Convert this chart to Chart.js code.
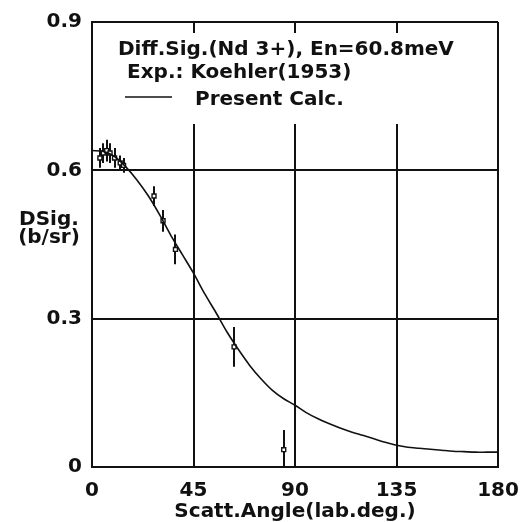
<!DOCTYPE html>
<html>
<head>
<meta charset="utf-8">
<script src="https://cdn.jsdelivr.net/npm/chart.js@4.4.0/dist/chart.umd.min.js"></script>
<style>
  html, body { margin: 0; padding: 0; background: #fff; }
  #wrap { width: 528px; height: 522px; }
</style>
</head>
<body>
<div id="wrap"><canvas id="grafico" width="528" height="522"></canvas></div>
<script>
// ---------- datos ----------
const xTicks = [0, 45, 90, 135, 180];
const yTicks = [0, 0.3, 0.6, 0.9];

// curva calculada (Present Calc.)
const calcX = [0, 5, 10, 15, 20, 25, 30, 35, 40, 45, 50, 55, 60, 65, 70, 75, 80, 85, 90,
               95, 100, 105, 110, 115, 120, 125, 130, 135, 140, 145, 150, 155, 160, 165, 170, 175, 180];
const calcY = [0.640, 0.638, 0.628, 0.607, 0.580, 0.548, 0.510, 0.468, 0.430, 0.392, 0.350, 0.312,
               0.272, 0.237, 0.205, 0.178, 0.155, 0.138, 0.125, 0.110, 0.098, 0.088, 0.079, 0.071,
               0.064, 0.057, 0.050, 0.044, 0.040, 0.038, 0.036, 0.034, 0.032, 0.031, 0.030, 0.030, 0.030];

// experimento Koehler (1953)
const expX   = [3.5, 5, 6.5, 8, 10, 12.5, 14, 27.5, 31.5, 37, 63, 85];
const expY   = [0.625, 0.635, 0.64, 0.635, 0.625, 0.615, 0.61, 0.548, 0.498, 0.44, 0.243, 0.035];
const expErr = [0.02, 0.02, 0.022, 0.02, 0.02, 0.015, 0.015, 0.02, 0.022, 0.03, 0.04, 0.04];

const legendLines = ['Diff.Sig.(Nd 3+), En=60.8meV', 'Exp.: Koehler(1953)', 'Present Calc.'];
const yTitle = ['DSig.', '(b/sr)'];
const xTitle = 'Scatt.Angle(lab.deg.)';

const FONT = 'DejaVu Sans';
const INK = '#111';

// ---------- plugin: caja blanca, barras de error, textos ----------
const overlay = {
  id: 'overlay',
  beforeDatasetsDraw(chart) {
    const { ctx, chartArea: a, scales: { x, y } } = chart;
    ctx.save();
    // la leyenda tapa la grilla
    ctx.fillStyle = '#fff';
    ctx.fillRect(a.left + 2, a.top + 11, a.right - a.left - 4, 91);
    // barras de error
    ctx.strokeStyle = INK;
    ctx.lineWidth = 2;
    ctx.beginPath();
    expX.forEach((v, i) => {
      const px = Math.round(x.getPixelForValue(v));
      const y0 = Math.min(y.getPixelForValue(Math.max(expY[i] - expErr[i], 0)), a.bottom);
      const y1 = y.getPixelForValue(expY[i] + expErr[i]);
      ctx.moveTo(px, y0);
      ctx.lineTo(px, y1);
    });
    ctx.stroke();
    ctx.restore();
  },
  afterDraw(chart) {
    const { ctx } = chart;
    ctx.save();
    ctx.fillStyle = INK;
    ctx.font = `bold 20px "${FONT}"`;
    ctx.textBaseline = 'alphabetic';
    ctx.textAlign = 'left';
    ctx.fillText(legendLines[0], 118, 55);
    ctx.fillText(legendLines[1], 127, 78);
    ctx.fillText(legendLines[2], 195, 105);
    // muestra de línea
    ctx.strokeStyle = INK;
    ctx.lineWidth = 1.5;
    ctx.beginPath();
    ctx.moveTo(125, 97);
    ctx.lineTo(172, 97);
    ctx.stroke();
    // título eje y (horizontal)
    ctx.textAlign = 'center';
    ctx.textBaseline = 'middle';
    ctx.fillText(yTitle[0], 49, 220);
    ctx.fillText(yTitle[1], 49, 238);
    ctx.restore();
  }
};

const tickFont = { family: FONT, size: 20, weight: 'bold' };

new Chart(document.getElementById('grafico'), {
  type: 'scatter',
  data: {
    datasets: [
      {
        label: 'Present Calc.',
        data: calcX.map((v, i) => ({ x: v, y: calcY[i] })),
        showLine: true,
        borderColor: INK,
        borderWidth: 1.6,
        pointRadius: 0,
        tension: 0.3
      },
      {
        label: 'Exp.: Koehler(1953)',
        data: expX.map((v, i) => ({ x: v, y: expY[i] })),
        pointStyle: 'rect',
        pointRadius: 2.8,
        backgroundColor: '#fff',
        borderColor: INK,
        borderWidth: 1.4
      }
    ]
  },
  options: {
    responsive: false,
    animation: false,
    devicePixelRatio: 1,
    layout: { padding: { top: 21, right: 30, left: 0, bottom: 0 } },
    plugins: { legend: { display: false }, tooltip: { enabled: false } },
    scales: {
      x: {
        type: 'linear', min: 0, max: 180,
        afterBuildTicks: s => { s.ticks = xTicks.map(v => ({ value: v })); },
        afterFit: s => { s.height = 55; s.paddingLeft = 0; s.paddingRight = 0; },
        grid: { color: INK, lineWidth: 2, drawTicks: false },
        border: { display: true, color: INK, width: 2 },
        ticks: { font: tickFont, color: INK, padding: 12, maxRotation: 0 },
        title: { display: true, text: xTitle, font: { ...tickFont, lineHeight: 1.0 }, color: INK, padding: { top: 0, bottom: 0 } }
      },
      y: {
        type: 'linear', min: 0, max: 0.9,
        afterBuildTicks: s => { s.ticks = yTicks.map(v => ({ value: v })); },
        afterFit: s => { s.width = 92; },
        grid: { color: INK, lineWidth: 2, drawTicks: false },
        border: { display: true, color: INK, width: 2 },
        ticks: { font: tickFont, color: INK, padding: 10, callback: v => v === 0 ? '0' : v.toFixed(1) }
      }
    }
  },
  plugins: [overlay]
});
</script>
</body>
</html>
